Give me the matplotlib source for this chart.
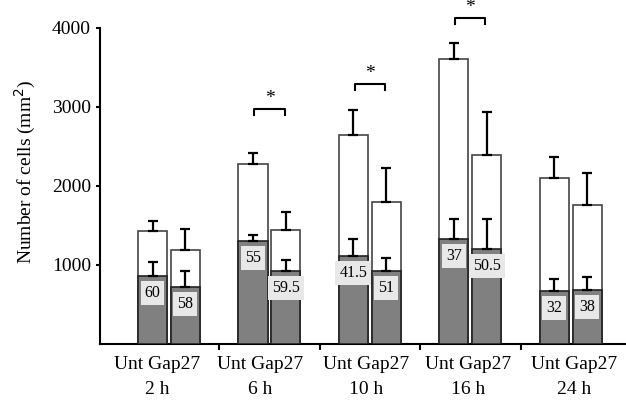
"""
Cell counts per time point, untreated vs Gap27
"""
import matplotlib as mpl
mpl.use('Agg')
import matplotlib.pyplot as plt
import numpy as np

times = ["2 h", "6 h", "10 h", "16 h", "24 h"]
groups = ["Unt", "Gap27"]

total_unt = [1430, 2278, 2646, 3608, 2101]
total_unt_err = [127, 140, 316, 202, 266]
total_gap = [1190, 1443, 1797, 2392, 1759]
total_gap_err = [266, 227, 431, 545, 406]

dark_unt = [860, 1304, 1114, 1329, 671]
dark_unt_err = [180, 76, 215, 253, 152]
dark_gap = [720, 924, 924, 1203, 684]
dark_gap_err = [204, 139, 165, 379, 164]

pct_unt = ["60", "55", "41.5", "37", "32"]
pct_gap = ["58", "59.5", "51", "50.5", "38"]

# significance brackets: (group index, bracket height)
sig = [(1, 2975), (2, 3290), (3, 4127)]

plt.rcParams['font.family'] = ['Liberation Serif', 'DejaVu Serif']

fig = plt.figure(figsize=(6.26, 4.04), dpi=100)
ax = fig.add_axes([100 / 626, 60 / 404, 525 / 626, 344 / 404])

x = np.arange(len(times))
off = 0.164
w = 0.29
# group labels sit a little off the bar centres in the original
label_x = [-0.12, 0.91, 1.96, 2.98, 4.03]

for xs, tot, tot_e, dk, dk_e, pct in [
    (x - off, total_unt, total_unt_err, dark_unt, dark_unt_err, pct_unt),
    (x + off, total_gap, total_gap_err, dark_gap, dark_gap_err, pct_gap),
]:
    ax.bar(xs, tot, w, color='white', edgecolor='#444444', linewidth=1.2, zorder=2)
    ax.errorbar(xs, tot, yerr=[np.zeros(len(tot)), tot_e], fmt='none',
                ecolor='black', elinewidth=1.6, capsize=3.6, capthick=1.6, zorder=3)
    ax.bar(xs, dk, w, color='#808080', edgecolor='#222222', linewidth=1.2, zorder=4)
    ax.errorbar(xs, dk, yerr=[np.zeros(len(dk)), dk_e], fmt='none',
                ecolor='black', elinewidth=1.6, capsize=3.6, capthick=1.6, zorder=5)
    for xi, yi, t in zip(xs, dk, pct):
        ax.annotate(t, (xi, yi), xytext=(0, -17), textcoords='offset pixels',
                    ha='center', va='center', fontsize=11.5, zorder=6,
                    bbox=dict(boxstyle='square,pad=0.25', fc='#e8e8e8', ec='none'))

for gi, h in sig:
    x0, x1 = gi - 0.15, gi + 0.15
    ax.plot([x0, x0, x1, x1], [h - 75, h, h, h - 75], color='black', lw=1.5,
            zorder=3, clip_on=False)
    ax.text(gi, h + 20, "*", ha='center', va='bottom', fontsize=14)

ax.set_xlim(-0.687, 4.54)
ax.set_ylim(0, 4354)
ax.spines['top'].set_visible(False)
ax.spines['right'].set_visible(False)
ax.spines['left'].set_bounds(0, 4000)
ax.spines['left'].set_linewidth(1.5)
ax.spines['bottom'].set_linewidth(1.5)

ax.set_yticks([1000, 2000, 3000, 4000])
ax.tick_params(axis='y', labelsize=14, width=1.5, length=3, direction='out')
ax.set_xticks([0.5, 1.5, 2.5, 3.5])
ax.set_xticklabels([])
ax.tick_params(axis='x', width=1.5, length=4, direction='out')

for lx, t in zip(label_x, times):
    ax.text(lx, -0.036, f"Unt Gap27\n{t}", transform=ax.get_xaxis_transform(),
            ha='center', va='top', fontsize=14, linespacing=1.6)

ax.set_ylabel("Number of cells (mm$^2$)", fontsize=14, labelpad=10)

fig.savefig("out.png", dpi=100)
